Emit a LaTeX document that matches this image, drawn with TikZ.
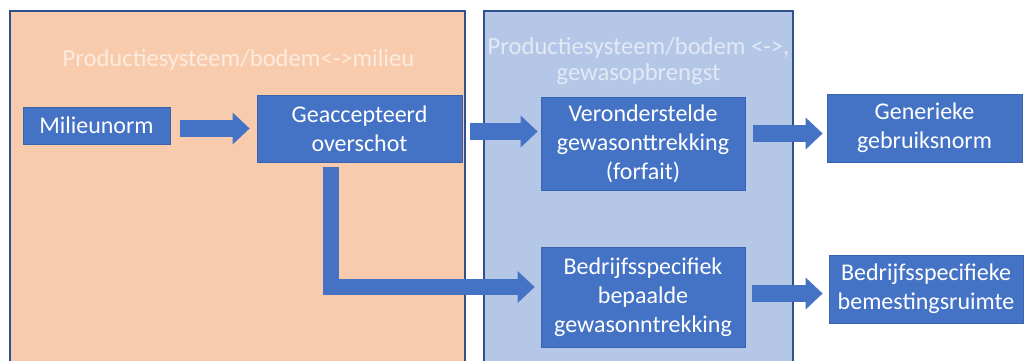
\documentclass[tikz,border=0pt]{standalone}
\usepackage{fontspec}
\setmainfont{Carlito}
\usetikzlibrary{arrows.meta,calc}
\definecolor{boxblue}{HTML}{4472C4}
\definecolor{boxedge}{HTML}{3A64B0}
\definecolor{panelorange}{HTML}{F8CBAD}
\definecolor{panelblue}{HTML}{B4C7E7}
\definecolor{paneledge}{HTML}{2F528F}
\tikzset{
  panel/.style={draw=paneledge, line width=1.3pt},
  procbox/.style={fill=boxblue, draw=boxedge, line width=0.8pt, text=white,
    align=center, inner sep=0pt, font=\fontsize{24}{29}\selectfont},
  paneltitle/.style={text=white, text opacity=0.62, align=center, inner sep=0pt,
    font=\fontsize{24.6}{25.5}\selectfont},
  blockarrow/.style={draw=boxblue, line width=17pt, line join=miter, line cap=butt,
    -{Triangle[width=32pt,length=17pt,line width=0pt]}}
}
\begin{document}
\begin{tikzpicture}[x=1pt,y=-1pt]
\useasboundingbox (0,0) rectangle (1025,361);
\clip (0,0) rectangle (1025,361);
\fill[white] (0,0) rectangle (1025,361);
% panels
\draw[panel, fill=panelorange] (10,11) rectangle (465,380);
\draw[panel, fill=panelblue] (484,11) rectangle (793,380);
\node[paneltitle] (torange) at (238.5,60) {Productiesysteem/bodem<->milieu};
\node[paneltitle] (tblue) at (638.5,61) {Productiesysteem/bodem <->,\\gewasopbrengst};
% boxes
\node[procbox, minimum width=147pt, minimum height=37pt] (mil) at (96.5,125.5) {Milieunorm};
\node[procbox, minimum width=205pt, minimum height=67pt] (geacc) at (359.5,128.5) {Geaccepteerd\\overschot};
\node[procbox, minimum width=204pt, minimum height=93pt] (veron) at (643,144) {Veronderstelde\\gewasonttrekking\\(forfait)};
\node[procbox, minimum width=204pt, minimum height=100pt] (bedr) at (643,297) {Bedrijfsspecifiek\\bepaalde\\gewasonntrekking};
\node[procbox, minimum width=195pt, minimum height=68pt] (gener) at (924.5,128) {Generieke\\gebruiksnorm};
\node[procbox, minimum width=194pt, minimum height=68pt] (bedrs) at (926,289) {Bedrijfsspecifieke\\bemestingsruimte};
% connectors
\coordinate (a1) at ([yshift=-3pt]mil.east);
\draw[blockarrow, shorten <=10pt, shorten >=7pt] (a1) -- (a1 -| geacc.west);
\coordinate (a2) at ([yshift=-3pt]geacc.east);
\draw[blockarrow, shorten <=8pt, shorten >=3pt] (a2) -- (a2 -| veron.west);
\coordinate (a3) at ([yshift=-5.5pt]gener.west);
\draw[blockarrow, shorten <=8pt, shorten >=4pt] (a3 -| veron.east) -- (a3);
\coordinate (a4) at ([yshift=-4.5pt]bedrs.west);
\draw[blockarrow, shorten <=7pt, shorten >=6pt] (a4 -| bedr.east) -- (a4);
\draw[blockarrow, line width=16pt, shorten <=5pt, shorten >=6pt] ([xshift=-29pt]geacc.south) |- ([yshift=10pt]bedr.west);
\end{tikzpicture}
\end{document}
